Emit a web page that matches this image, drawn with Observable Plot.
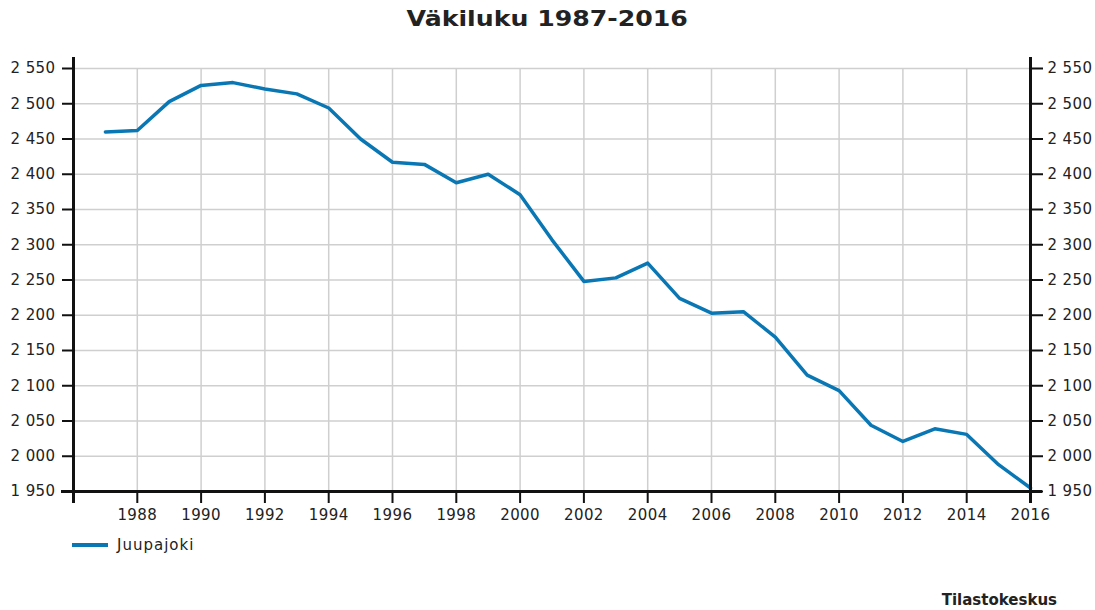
<!DOCTYPE html>
<html>
<head>
<meta charset="utf-8">
<script src="https://cdn.jsdelivr.net/npm/d3@7"></script>
<script src="https://cdn.jsdelivr.net/npm/@observablehq/plot@0.6"></script>
<style>
  body { margin: 0; background: #fff; }
  #wrap { position: relative; width: 1095px; height: 610px; font-family: "DejaVu Sans", sans-serif; color: #222; overflow: hidden; }
  #title { position: absolute; top: 5px; left: 0; width: 1095px; text-align: center; font-weight: bold; font-size: 21px; line-height: 28px; }
  #title span { display: inline-block; transform: scaleX(1.2); }
  #chart { position: absolute; top: 40px; left: 0; }
  #legend { position: absolute; top: 533px; left: 72px; height: 24px; display: flex; align-items: center; font-size: 15px; letter-spacing: 1px; }
  #legend .sw { width: 36px; height: 4px; margin-right: 9px; }
  #caption { position: absolute; top: 591px; right: 38px; font-weight: bold; font-size: 15px; }
</style>
</head>
<body>
<div id="wrap">
  <div id="title"><span>Väkiluku 1987-2016</span></div>
  <div id="chart"></div>
  <div id="legend"></div>
  <div id="caption">Tilastokeskus</div>
</div>
<script>
const seriesName = "Juupajoki";
const years = [1987, 1988, 1989, 1990, 1991, 1992, 1993, 1994, 1995, 1996,
               1997, 1998, 1999, 2000, 2001, 2002, 2003, 2004, 2005, 2006,
               2007, 2008, 2009, 2010, 2011, 2012, 2013, 2014, 2015, 2016];
const population = [2460, 2462, 2503, 2526, 2530, 2521, 2514, 2494, 2450, 2417,
                    2414, 2388, 2400, 2371, 2307, 2248, 2253, 2274, 2224, 2203,
                    2205, 2169, 2115, 2093, 2044, 2021, 2039, 2031, 1988, 1955];
const xTicks = [1986, 1988, 1990, 1992, 1994, 1996, 1998, 2000, 2002, 2004, 2006, 2008, 2010, 2012, 2014, 2016];
const xTickLabels = ["", "1988", "1990", "1992", "1994", "1996", "1998", "2000", "2002", "2004", "2006", "2008", "2010", "2012", "2014", "2016"];
const yTicks = [1950, 2000, 2050, 2100, 2150, 2200, 2250, 2300, 2350, 2400, 2450, 2500, 2550];

const lineColor = "#0a77b5";
const gridColor = "#cfcfcf";
const axisColor = "#111";

const data = years.map((year, i) => ({year, value: population[i]}));
const fmtY = d => d3.format(",")(d).replace(/,/g, " ");
const fmtX = d => xTickLabels[xTicks.indexOf(d)];

const chart = Plot.plot({
  width: 1095,
  height: 490,
  marginTop: 28,
  marginBottom: 39,
  marginLeft: 73,
  marginRight: 65,
  style: {fontFamily: "DejaVu Sans", fontSize: "15px", color: "#222", letterSpacing: "0.4px", overflow: "visible", background: "#fff"},
  x: {domain: [xTicks[0], xTicks[xTicks.length - 1]]},
  y: {domain: [yTicks[0], yTicks[yTicks.length - 1]]},
  marks: [
    Plot.ruleX(xTicks.slice(1, -1), {stroke: gridColor, strokeWidth: 1.5}),
    Plot.ruleY(yTicks.slice(1), {stroke: gridColor, strokeWidth: 1.5}),
    Plot.line(data, {x: "year", y: "value", stroke: lineColor, strokeWidth: 3.5, strokeLinejoin: "round", strokeLinecap: "round"}),
    Plot.axisY({anchor: "left", ticks: yTicks, tickFormat: fmtY, tickSize: 11, tickPadding: 7, strokeWidth: 2, stroke: axisColor, label: null}),
    Plot.axisY({anchor: "right", ticks: yTicks, tickFormat: fmtY, tickSize: 12, tickPadding: 5, strokeWidth: 2, stroke: axisColor, label: null}),
    Plot.axisX({ticks: xTicks, tickFormat: fmtX, tickSize: 12, tickPadding: 6, strokeWidth: 2, stroke: axisColor, label: null}),
    Plot.ruleX([xTicks[0], xTicks[xTicks.length - 1]], {stroke: axisColor, strokeWidth: 3, insetTop: -11, insetBottom: -12}),
    Plot.ruleY([yTicks[0]], {stroke: axisColor, strokeWidth: 3, insetLeft: -12, insetRight: -12})
  ]
});
document.getElementById("chart").appendChild(chart);

const legend = document.getElementById("legend");
const sw = document.createElement("div");
sw.className = "sw";
sw.style.background = lineColor;
const lab = document.createElement("span");
lab.textContent = seriesName;
legend.appendChild(sw);
legend.appendChild(lab);
</script>
</body>
</html>
